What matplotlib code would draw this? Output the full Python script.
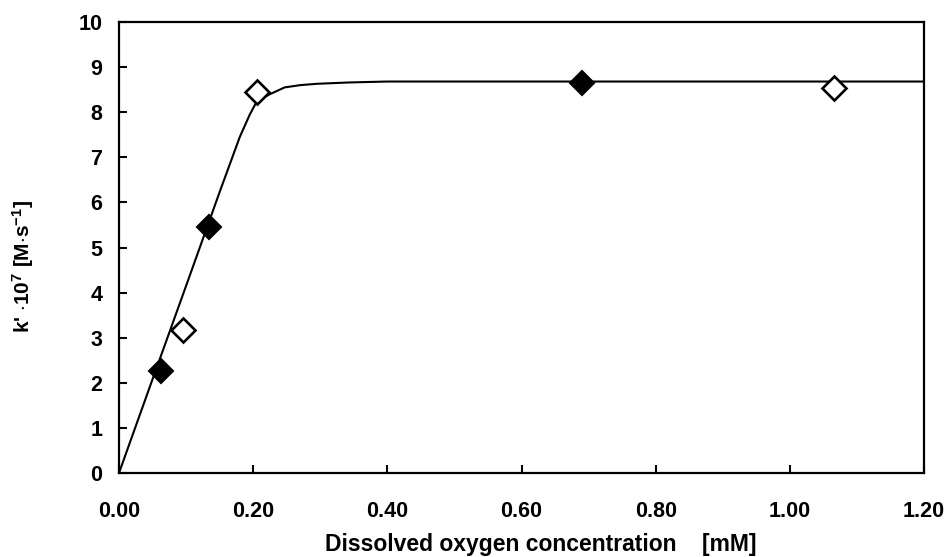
import numpy as np
import matplotlib.pyplot as plt

plt.rcParams['font.family'] = ['Liberation Sans', 'DejaVu Sans']
plt.rcParams['mathtext.fontset'] = 'custom'
plt.rcParams['mathtext.rm'] = 'Liberation Sans:bold'
plt.rcParams['mathtext.bf'] = 'Liberation Sans:bold'
plt.rcParams['mathtext.default'] = 'bf'

# measured points
filled_x = [0.063, 0.134, 0.690]
filled_y = [2.27, 5.45, 8.65]
open_x = [0.095, 0.206, 1.066]
open_y = [3.17, 8.45, 8.54]

# fitted curve
curve_x = [0.0, 0.05, 0.10, 0.15, 0.18, 0.195, 0.204, 0.215, 0.225, 0.247,
           0.27, 0.295, 0.344, 0.40, 0.60, 1.20]
curve_y = [0.0, 2.08, 4.15, 6.23, 7.45, 7.95, 8.20, 8.32, 8.40, 8.55,
           8.60, 8.63, 8.66, 8.68, 8.68, 8.68]

fig = plt.figure(figsize=(9.49, 5.57), dpi=100)
ax = fig.add_axes([0.1254, 0.1508, 0.8483, 0.8097])

ax.plot(curve_x, curve_y, color='black', lw=1.5, zorder=2)
ax.plot(filled_x, filled_y, 'D', ms=12.5, mfc='black', mec='black', mew=1.5,
        ls='none', zorder=3)
ax.plot(open_x, open_y, 'D', ms=12, mfc='white', mec='black', mew=1.9,
        ls='none', zorder=3)

ax.set_xlim(0, 1.2)
ax.set_ylim(0, 10)
ax.set_xticks(np.arange(0, 1.21, 0.2))
ax.set_xticklabels(['%.2f' % v for v in np.arange(0, 1.21, 0.2)])
ax.set_yticks(range(0, 11))

for s in ax.spines.values():
    s.set_linewidth(1.6)
ax.tick_params(direction='in', length=6, width=1.5, labelsize=15.5)
ax.tick_params(axis='y', pad=12)
ax.tick_params(axis='x', pad=20)
for lab in ax.get_xticklabels() + ax.get_yticklabels():
    lab.set_fontweight('bold')

fig.text(541 / 949, 1 - 545 / 557, 'Dissolved oxygen concentration    [mM]',
         fontsize=16.5, fontweight='bold', ha='center', va='center')
fig.text(23 / 949, 1 - 266 / 557, "k' $\\cdot$10$^{7}$ [M$\\cdot$s$^{-1}$]",
         fontsize=15, fontweight='bold', ha='center', va='center',
         rotation=90)

fig.savefig('out.png', dpi=100)
